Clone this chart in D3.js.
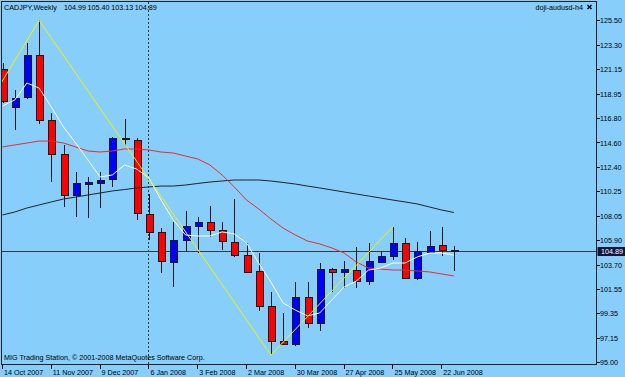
<!DOCTYPE html>
<html>
<head>
<meta charset="utf-8">
<script src="https://cdn.jsdelivr.net/npm/d3@7"></script>
<style>
  html, body { margin: 0; padding: 0; background: #87cefa; }
  svg { display: block; }
  text { font-family: "Liberation Sans", Arial, sans-serif; font-size: 7.2px; fill: #000; }
</style>
</head>
<body>
<div id="content"></div>
<script>
const symbol = "CADJPY,Weekly";
const lastQuote = [104.99, 105.40, 103.13, 104.89];
const indicatorName = "doji-audusd-h4";
const copyright = "MIG Trading Station, \u00a9 2001-2008 MetaQuotes Software Corp.";

// weekly bars, 14 Oct 2007 .. 29 Jun 2008
const opens  = [121.20, 117.84, 118.61, 122.39, 116.59, 113.53, 109.90, 110.94, 111.03, 111.29,
                114.96, 114.80, 108.20, 106.57, 103.95, 105.88, 107.16, 107.46, 106.78, 105.73,
                104.55, 103.12, 100.02, 96.90, 96.61, 100.77, 98.45, 103.27, 103.00, 103.21,
                102.23, 103.95, 104.46, 105.64, 102.46, 104.84, 105.44, 104.99];
const highs  = [121.70, 119.26, 123.48, 125.50, 117.24, 114.36, 111.98, 111.53, 111.98, 115.10,
                116.74, 114.96, 109.99, 106.93, 107.46, 108.50, 107.96, 108.92, 107.46, 109.59,
                105.59, 104.75, 101.27, 99.34, 102.16, 102.16, 103.86, 103.40, 104.00, 105.28,
                105.59, 104.90, 107.07, 106.03, 105.73, 106.69, 107.02, 105.40];
const lows   = [118.10, 115.70, 118.50, 116.29, 111.08, 108.85, 107.96, 107.82, 108.71, 110.64,
                114.27, 107.72, 105.88, 102.91, 101.72, 104.84, 104.70, 106.18, 104.99, 104.40,
                102.91, 99.58, 95.62, 96.61, 96.45, 98.06, 97.79, 101.27, 101.57, 101.57,
                101.87, 103.80, 104.10, 102.38, 102.31, 104.80, 104.48, 103.13];
const closes = [118.37, 118.61, 122.39, 116.59, 113.53, 109.84, 110.94, 111.08, 111.29, 114.96,
                114.90, 108.26, 106.57, 103.95, 105.88, 107.16, 107.52, 106.78, 105.82, 104.55,
                103.06, 100.02, 96.90, 96.67, 100.77, 98.45, 103.27, 103.00, 103.27, 102.23,
                104.00, 104.46, 105.64, 102.52, 104.90, 105.35, 104.99, 104.89];

// moving averages
const maFast = [117.86, 118.39, 119.91, 119.46, 117.77, 115.98, 114.55, 113.04, 111.52, 111.70,
                112.59, 112.23, 111.43, 109.46, 107.68, 106.34, 106.25, 106.25, 106.61, 106.43,
                105.63, 103.84, 102.14, 100.27, 99.64, 99.11, 99.38, 100.54, 101.70, 102.23,
                103.21, 103.39, 103.84, 103.84, 104.38, 104.73, 104.73, 104.55];
const maMid  = [114.20, 114.38, 114.55, 114.73, 114.73, 114.55, 114.20, 113.84, 113.75, 113.84,
                114.02, 114.02, 113.93, 113.75, 113.66, 113.39, 113.13, 112.59, 111.70, 110.63,
                109.46, 108.66, 107.77, 106.96, 106.34, 105.80, 105.54, 105.18, 104.73, 103.93,
                103.39, 103.30, 103.21, 103.21, 103.13, 103.04, 102.86, 102.68];
const maSlow = [108.13, 108.39, 108.75, 109.02, 109.29, 109.55, 109.73, 109.91, 110.09, 110.27,
                110.40, 110.54, 110.63, 110.71, 110.71, 110.80, 110.94, 111.07, 111.16, 111.25,
                111.25, 111.25, 111.16, 111.03, 110.89, 110.71, 110.54, 110.36, 110.18, 110.00,
                109.82, 109.64, 109.46, 109.29, 109.11, 108.84, 108.57, 108.35];

const zigzagBars   = [-2, 3, 22, 32];
const zigzagPrices = [116.53, 125.50, 95.62, 107.07];

const separatorBar = 12;
const dateTickBars = [0, 4, 8, 12, 16, 20, 24, 28, 32, 36];
const dateLabels = ["14 Oct 2007", "11 Nov 2007", "9 Dec 2007", "6 Jan 2008", "3 Feb 2008",
                    "2 Mar 2008", "30 Mar 2008", "27 Apr 2008", "25 May 2008", "22 Jun 2008"];
const priceTicks = [125.50, 123.30, 121.15, 118.95, 116.80, 114.60, 112.40, 110.25,
                    108.05, 105.90, 103.70, 101.55, 99.35, 97.15, 95.00];

const width = 625;
const height = 377;
const fontSize = "7.2px";
const plotLeft = 1.5, plotTop = 1.5, plotRight = 596.5, plotBottom = 364.5;

const svg = d3.select("#content")
    .append("svg")
    .attr("width", width)
    .attr("height", height);

svg.append("rect")
    .attr("width", width)
    .attr("height", height)
    .attr("fill", "#87cefa");

svg.append("clipPath")
    .attr("id", "plot-clip")
    .append("rect")
    .attr("x", 2).attr("y", 2)
    .attr("width", plotRight - 2).attr("height", plotBottom - 2);

const xScale = d3.scaleLinear()
    .domain([0, closes.length - 1])
    .range([2.5, 2.5 + 12.2 * (closes.length - 1)]);
const yScale = d3.scaleLinear()
    .domain([95, 125.5])
    .range([362, 20.4]);

const plot = svg.append("g").attr("clip-path", "url(#plot-clip)");

// bid line + separator
const bidY = Math.round(yScale(lastQuote[3])) + 0.5;
plot.append("line")
    .attr("x1", plotLeft).attr("x2", plotRight)
    .attr("y1", bidY).attr("y2", bidY)
    .attr("stroke", "#3a3a3a")
    .attr("shape-rendering", "crispEdges");

const sepX = Math.round(xScale(separatorBar)) - 0.5;
plot.append("line")
    .attr("x1", sepX).attr("x2", sepX)
    .attr("y1", plotTop).attr("y2", plotBottom)
    .attr("stroke", "#3a3a3a")
    .attr("stroke-dasharray", "2,2")
    .attr("shape-rendering", "crispEdges");

// candles
const bars = d3.range(closes.length);
const candle = plot.selectAll("g.candle")
    .data(bars)
    .enter()
    .append("g")
    .attr("class", "candle");

candle.append("line")
    .attr("x1", i => Math.round(xScale(i)) + 0.5)
    .attr("x2", i => Math.round(xScale(i)) + 0.5)
    .attr("y1", i => yScale(highs[i]))
    .attr("y2", i => yScale(lows[i]))
    .attr("stroke", "#1a1a1a")
    .attr("shape-rendering", "crispEdges");

candle.append("rect")
    .attr("x", i => Math.round(xScale(i)) - 3)
    .attr("y", i => Math.round(yScale(Math.max(opens[i], closes[i]))) + 0.5)
    .attr("width", 7)
    .attr("height", i => Math.max(1, Math.round(Math.abs(yScale(opens[i]) - yScale(closes[i])))))
    .attr("fill", i => closes[i] >= opens[i] ? "#0000ff" : "#ff0000")
    .attr("stroke", "#1a1a1a")
    .attr("shape-rendering", "crispEdges");

// moving averages
const maLine = d3.line()
    .x((d, i) => xScale(i))
    .y(d => yScale(d));

plot.append("path").datum(maSlow).attr("d", maLine)
    .attr("fill", "none").attr("stroke", "#222222").attr("stroke-width", 1);
plot.append("path").datum(maMid).attr("d", maLine)
    .attr("fill", "none").attr("stroke", "#ee2a2a").attr("stroke-width", 1);
plot.append("path").datum(maFast).attr("d", maLine)
    .attr("fill", "none").attr("stroke", "#ffffff").attr("stroke-width", 1);

// zigzag
const zz = zigzagBars.map((b, i) => [b, zigzagPrices[i]]);
plot.append("path")
    .datum(zz)
    .attr("d", d3.line().x(d => xScale(d[0])).y(d => yScale(d[1])))
    .attr("fill", "none")
    .attr("stroke", "#f4f400")
    .attr("stroke-width", 1);

// frame
svg.append("rect")
    .attr("x", plotLeft).attr("y", plotTop)
    .attr("width", plotRight - plotLeft)
    .attr("height", plotBottom - plotTop)
    .attr("fill", "none")
    .attr("stroke", "#222")
    .attr("shape-rendering", "crispEdges");

// axes
const xAxis = d3.axisBottom(xScale)
    .tickValues(dateTickBars)
    .tickFormat((d, i) => dateLabels[i])
    .tickSize(4)
    .tickSizeOuter(0);
const gx = svg.append("g")
    .attr("transform", `translate(-0.5, ${plotBottom})`)
    .call(xAxis);
gx.select(".domain").remove();
gx.selectAll(".tick line").attr("stroke", "#000").attr("shape-rendering", "crispEdges");
gx.selectAll(".tick text")
    .attr("text-anchor", "start")
    .attr("x", 1.5)
    .attr("y", 10)
    .attr("dy", 0)
    .attr("fill", "#000")
    .style("font-family", "\"Liberation Sans\", Arial, sans-serif")
    .style("font-size", fontSize);

const yAxis = d3.axisRight(yScale)
    .tickValues(priceTicks)
    .tickFormat(d3.format(".2f"))
    .tickSize(3)
    .tickSizeOuter(0);
const gy = svg.append("g")
    .attr("transform", `translate(${plotRight}, 0)`)
    .call(yAxis);
gy.select(".domain").remove();
gy.selectAll(".tick line").attr("stroke", "#000").attr("shape-rendering", "crispEdges");
gy.selectAll(".tick text")
    .attr("x", 3.5)
    .attr("dy", "0.35em")
    .attr("fill", "#000")
    .style("font-family", "\"Liberation Sans\", Arial, sans-serif")
    .style("font-size", fontSize);

// current price box
svg.append("rect")
    .attr("x", plotRight + 1).attr("y", bidY - 4.5)
    .attr("width", width - plotRight - 1).attr("height", 9)
    .attr("fill", "#14143c");
svg.append("text")
    .attr("x", plotRight + 4.5).attr("y", bidY)
    .attr("dy", "0.35em")
    .style("fill", "#ffffff")
    .text(lastQuote[3].toFixed(2));

// titles
svg.append("text").attr("x", 4).attr("y", 9.5).text(symbol);
svg.selectAll("text.quote")
    .data(lastQuote)
    .enter()
    .append("text")
    .attr("class", "quote")
    .attr("x", (d, i) => 64 + i * 23.6)
    .attr("y", 9.5)
    .text(d => d.toFixed(2));
svg.append("text").attr("x", 583).attr("y", 9.5)
    .attr("text-anchor", "end")
    .text(indicatorName);
svg.append("path")
    .attr("d", "M587.5,5 L591.5,9 M591.5,5 L587.5,9")
    .attr("stroke", "#000")
    .attr("stroke-width", 1.4);

svg.append("text").attr("x", 4).attr("y", 360).text(copyright);
</script>
</body>
</html>
